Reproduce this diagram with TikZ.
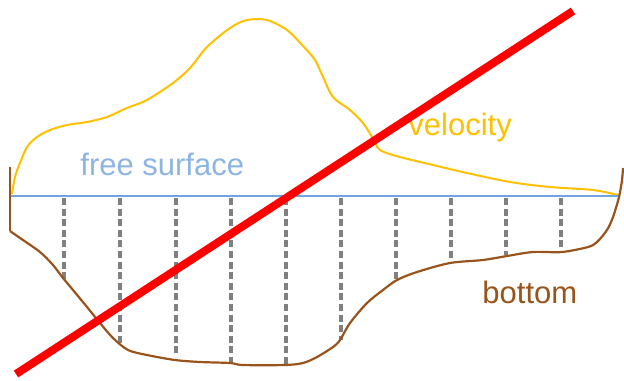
\documentclass[tikz,border=0pt]{standalone}
\usepackage{fontspec}
\setmainfont{Liberation Sans}
\definecolor{surfblue}{RGB}{112,166,220}
\definecolor{surftext}{RGB}{141,180,226}
\definecolor{velyellow}{RGB}{255,192,0}
\definecolor{bedbrown}{RGB}{153,84,28}
\begin{document}
\begin{tikzpicture}[x=0.5pt, y=-0.5pt, every node/.style={font=\fontsize{15.5}{18}\selectfont, inner sep=0pt, anchor=base west}]
            \useasboundingbox (0,0) rectangle (624,380);
            \foreach \i/\x/\yb in {1/64/280,2/120/343,3/176/357,4/231/363,5/286/365,6/341/340,7/396/280,8/451/262,9/506/255,10/561/252} {
                \coordinate (s\i) at (\x,198);
                \coordinate (b\i) at (\x,\yb);
                \draw[gray, line width=1.7pt, dash pattern=on 3.5pt off 1.8pt] (s\i) -- (b\i);
            }
            \draw[velyellow, line width=1pt] plot[smooth, tension=0.5] coordinates {(12,194) (15,177) (20,163) (27,147) (37,137) (50,130) (67,125) (87,122) (107,117) (127,108) (147,100) (173,83) (190,68) (207,47) (230,28) (247,20) (267,20) (287,30) (303,46) (315,60) (323,77) (333,97) (350,110) (363,123) (372,137) (380,150) (400,157) (433,165) (467,173) (510,182) (550,187) (593,190) (618,195)};
            \draw[bedbrown, line width=1.1pt] plot[smooth, tension=0.5] coordinates {(10,167) (10,231)};
            \draw[bedbrown, line width=1.1pt] plot[smooth, tension=0.5] coordinates {(10,231) (20,238) (40,252) (53,265) (63,278) (73,290) (87,307) (100,323) (113,338) (128,350) (147,355) (175,360) (200,362) (230,363) (243,365) (285,365) (303,363) (317,357) (333,347) (340,340) (350,323) (367,303) (383,290) (397,280) (417,272) (450,263) (483,260) (507,256) (533,252) (562,252) (588,247) (597,242) (607,230) (613,217) (619,197) (622,180) (623,168)};
            \coordinate (fsl) at (11,196);
            \coordinate (fsr) at (618,196);
            \draw[surfblue, line width=1.2pt] (fsl) -- (fsr);
            \node[text=surftext] (free) at (80,175) {free surface};
            \node[text=velyellow] (vel) at (408,135) {velocity};
            \node[text=bedbrown] (bot) at (482,303) {bottom};
            \coordinate (crossA) at (16,374);
            \coordinate (crossB) at (573,11);
            \draw[red, line width=4pt] (crossA) -- (crossB);
        \end{tikzpicture}
\end{document}
